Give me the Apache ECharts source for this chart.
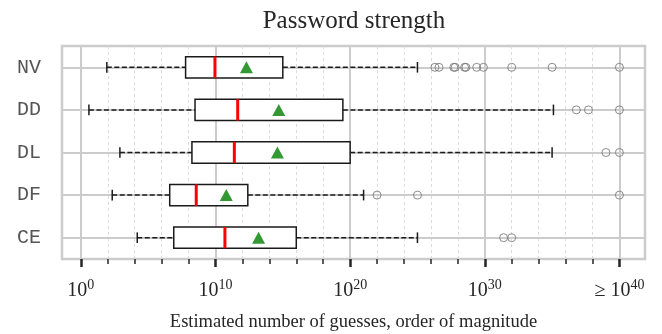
<!DOCTYPE html>
<html>
<head>
<meta charset="utf-8">
<script src="https://cdn.jsdelivr.net/npm/echarts@6/dist/echarts.min.js"></script>
<style>html,body{margin:0;padding:0;background:#fff;}#chart{width:662px;height:334px;}</style>
</head>
<body>
<div id="chart"></div>
<script>
// ---- data (orders of magnitude, log10 of guesses) ----
const categories = ['NV', 'DD', 'DL', 'DF', 'CE'];
const whiskerLow  = [1.93, 0.6, 2.9, 2.33, 4.19];
const quartile1   = [7.78, 8.48, 8.25, 6.6, 6.9];
const medians     = [9.96, 11.65, 11.4, 8.57, 10.7];
const quartile3   = [15.0, 19.46, 20.0, 12.4, 16.0];
const whiskerHigh = [25.0, 35.1, 35.0, 21.0, 25.0];
const means       = [12.3, 14.7, 14.6, 10.8, 13.2];
const outliersNV = [26.3, 26.6, 27.7, 27.8, 28.5, 28.6, 29.4, 29.9, 32.0, 35.0, 40.0];
const outliersDD = [36.8, 37.7, 40.0];
const outliersDL = [39.0, 40.0];
const outliersDF = [22.0, 25.0, 40.0];
const outliersCE = [31.4, 32.0];
const majorTicks = [0, 10, 20, 30, 40];
const majorTickExponents = ['0', '10', '20', '30', '40'];
const minorTicks = [2, 4, 6, 8, 12, 14, 16, 18, 22, 24, 26, 28, 32, 34, 36, 38];

const outlierLists = [outliersNV, outliersDD, outliersDL, outliersDF, outliersCE];
const boxData = categories.map((c, i) => [i, whiskerLow[i], quartile1[i], medians[i], quartile3[i], whiskerHigh[i]]);
const meanData = categories.map((c, i) => [means[i], i]);
const outlierData = [];
outlierLists.forEach((arr, i) => arr.forEach(v => outlierData.push([v, i])));

const X_MIN = -1.4, X_MAX = 41.9;
const textColor = '#262626';
const gridColor = '#cccccc';

const markLines = [];
majorTicks.forEach(v => markLines.push({ xAxis: v, lineStyle: { color: gridColor, width: 2, type: 'solid' } }));
minorTicks.forEach(v => markLines.push({ xAxis: v, lineStyle: { color: '#dcdcdc', width: 1, type: [3, 3] } }));
categories.forEach(c => markLines.push({ yAxis: c, lineStyle: { color: gridColor, width: 2, type: 'solid' } }));

const chart = echarts.init(document.getElementById('chart'), null, { renderer: 'canvas' });
chart.setOption({
  animation: false,
  backgroundColor: '#fff',
  title: {
    text: 'Password strength',
    left: 349, top: 4, textAlign: 'center',
    textStyle: { fontFamily: 'Liberation Serif', fontSize: 25, fontWeight: 'normal', color: textColor }
  },
  grid: { left: 62, right: 17, top: 46, bottom: 75, outerBoundsMode: 'none', containLabel: false, show: true, borderColor: gridColor, borderWidth: 2.5, backgroundColor: 'transparent' },
  xAxis: [{
    type: 'value', min: X_MIN, max: X_MAX, position: 'bottom',
    axisLine: { show: false }, splitLine: { show: false },
    axisTick: { show: true, customValues: majorTicks, length: 8, lineStyle: { color: textColor, width: 2.5 } },
    axisLabel: {
      show: true, customValues: majorTicks, margin: 20,
      formatter: function (v) {
        const i = majorTicks.indexOf(v);
        const pre = (i === majorTicks.length - 1) ? '{b|≥ }' : '';
        return pre + '{b|10}{s|' + majorTickExponents[i] + '}';
      },
      rich: {
        b: { fontFamily: 'Liberation Serif', fontSize: 20, color: textColor, lineHeight: 22, verticalAlign: 'bottom' },
        s: { fontFamily: 'Liberation Serif', fontSize: 14, color: textColor, lineHeight: 14, verticalAlign: 'bottom', padding: [0, 0, 9, 0] }
      }
    },
    name: 'Estimated number of guesses, order of magnitude',
    nameLocation: 'middle', nameGap: 54,
    nameTextStyle: { fontFamily: 'Liberation Serif', fontSize: 18.5, color: textColor }
  }, {
    type: 'value', min: X_MIN, max: X_MAX, position: 'bottom',
    axisLine: { show: false }, splitLine: { show: false }, axisLabel: { show: false },
    axisTick: { show: true, customValues: minorTicks, length: 5, lineStyle: { color: textColor, width: 1.5 } }
  }],
  yAxis: {
    type: 'category', data: categories, inverse: true,
    axisLine: { show: false }, axisTick: { show: false }, splitLine: { show: false },
    axisLabel: { margin: 21, fontFamily: 'Liberation Mono', fontSize: 20, color: '#555555' }
  },
  series: [{
    type: 'scatter', data: [], z: 1, silent: true,
    markLine: { z: 1, silent: true, symbol: ['none', 'none'], label: { show: false }, animation: false, data: markLines }
  }, {
    type: 'custom', z: 2, silent: true,
    data: boxData,
    encode: { x: [1, 2, 3, 4, 5], y: 0 },
    renderItem: function (params, api) {
      const cat = api.value(0);
      const band = api.size([0, 1])[1];
      const pLo = api.coord([api.value(1), cat]);
      const pQ1 = api.coord([api.value(2), cat]);
      const pMed = api.coord([api.value(3), cat]);
      const pQ3 = api.coord([api.value(4), cat]);
      const pHi = api.coord([api.value(5), cat]);
      const y = pLo[1];
      const hb = band * 0.25, hc = band * 0.125;
      const dash = { stroke: '#1a1a1a', lineWidth: 1.5, lineDash: [5, 2.5] };
      const solid = { stroke: '#1a1a1a', lineWidth: 1.5 };
      return {
        type: 'group',
        children: [
          { type: 'line', shape: { x1: pLo[0], y1: y, x2: pQ1[0], y2: y }, style: dash },
          { type: 'line', shape: { x1: pQ3[0], y1: y, x2: pHi[0], y2: y }, style: dash },
          { type: 'line', shape: { x1: pLo[0], y1: y - hc, x2: pLo[0], y2: y + hc }, style: solid },
          { type: 'line', shape: { x1: pHi[0], y1: y - hc, x2: pHi[0], y2: y + hc }, style: solid },
          { type: 'rect', shape: { x: pQ1[0], y: y - hb, width: pQ3[0] - pQ1[0], height: 2 * hb }, style: { fill: '#fff', stroke: '#1a1a1a', lineWidth: 1.5 } },
          { type: 'line', shape: { x1: pMed[0], y1: y - hb, x2: pMed[0], y2: y + hb }, style: { stroke: '#ff0000', lineWidth: 3 } }
        ]
      };
    }
  }, {
    type: 'scatter', z: 3, silent: true,
    data: outlierData,
    symbol: 'circle', symbolSize: 8,
    itemStyle: { color: 'rgba(0,0,0,0)', borderColor: '#707070', borderWidth: 1 }
  }, {
    type: 'scatter', z: 4, silent: true,
    data: meanData,
    symbol: 'triangle', symbolSize: [13, 12],
    itemStyle: { color: '#008000' }
  }]
});
</script>
</body>
</html>
